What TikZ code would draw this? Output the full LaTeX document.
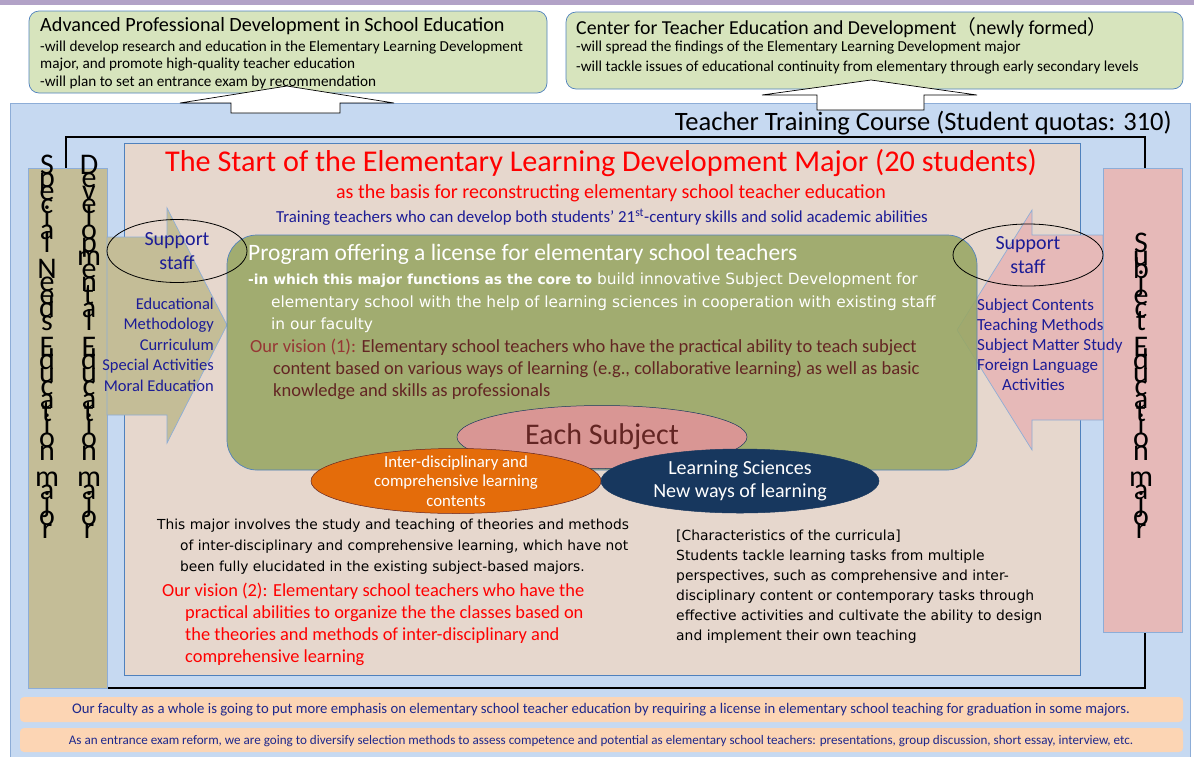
\documentclass[tikz,border=0pt]{standalone}
\usepackage{fontspec}
\setmainfont{Carlito}
\newfontfamily\gothic{DejaVu Sans}
\newfontfamily\cjk{Noto Sans CJK JP}
\usetikzlibrary{positioning}
\usetikzlibrary{shapes.geometric}

\definecolor{barpurple}{RGB}{178,162,199}
\definecolor{topgreen}{RGB}{215,228,189}
\definecolor{edgeblue}{RGB}{79,129,189}
\definecolor{panelblue}{RGB}{198,217,241}
\definecolor{paneledge}{RGB}{141,173,215}
\definecolor{innerbeige}{RGB}{230,215,205}
\definecolor{progolive}{RGB}{152,167,100}
\definecolor{colbeige}{RGB}{196,189,151}
\definecolor{colpink}{RGB}{230,185,184}
\definecolor{subjpink}{RGB}{217,150,148}
\definecolor{ellorange}{RGB}{228,108,10}
\definecolor{ellnavy}{RGB}{23,55,94}
\definecolor{footorange}{RGB}{252,213,180}
\definecolor{textnavy}{RGB}{28,28,150}
\definecolor{footnavy}{RGB}{30,40,140}
\definecolor{visionred}{RGB}{150,55,52}
\definecolor{visionbrown}{RGB}{99,37,35}

\newcommand{\stackfont}{\fontsize{30}{13}\selectfont\lineskiplimit=-100pt\lineskip=0pt\relax}

\begin{document}
\begin{tikzpicture}[x=1pt,y=-1pt,
    topbox/.style={draw=edgeblue, fill=topgreen, rounded corners=10pt, line width=0.7pt},
    uparrow/.style={draw=black, fill=white, line width=0.7pt},
    column/.style={draw=paneledge, line width=0.7pt},
    stack/.style={inner sep=0pt, align=center, anchor=north, font=\stackfont},
    txt/.style={inner sep=0pt, align=left, anchor=north west},
    oval/.style={ellipse, draw, inner sep=0pt}]
\useasboundingbox (0,0) rectangle (1194,756);

% background panels
\fill[barpurple] (0,0) rectangle (1194,5);
\draw[fill=panelblue, draw=paneledge, line width=0.7pt] (10,103) rectangle (1190,760);

% top boxes
\draw[topbox] (29,11) rectangle (547,93);
\draw[topbox] (566,12) rectangle (1183,89);
\node[txt, font=\fontsize{20.2}{24}\selectfont] (advtitle) at (40,17) {Advanced Professional Development in School Education};
\node[txt, font=\fontsize{15.2}{17.7}\selectfont] (advbody) at (40,40.5)
  {-will develop research and education in the Elementary Learning Development\\major, and promote high-quality teacher education\\-will plan to set an entrance exam by recommendation};
\node[txt, font=\fontsize{19.8}{24}\selectfont] (centitle) at (576,17) {Center for Teacher Education and Development{\cjk （}newly formed{\cjk ）}};
\node[txt, font=\fontsize{15.2}{20}\selectfont] (cenbody) at (576,41)
  {-will spread the findings of the Elementary Learning Development major\\-will tackle issues of educational continuity from elementary through early secondary levels};

% up arrows
\draw[uparrow] (287,86) -- (394,103) -- (340,103) -- (340,113) -- (231,113) -- (231,103) -- (180,103) -- cycle;
\draw[uparrow] (871,80) -- (977,95) -- (924,95) -- (924,110) -- (817,110) -- (817,95) -- (762,95) -- cycle;

% teacher training course frame
\draw[line width=1.8pt] (66,137) rectangle (1145,688);
\node[inner sep=0pt, anchor=east, font=\fontsize{26.5}{30}\selectfont] (course) at (1172,123) {Teacher Training Course (Student quotas: 310)};

% major box
\draw[fill=innerbeige, draw=edgeblue, line width=0.5pt] (124,143) rectangle (1080,675);

% side columns
\draw[column, fill=colbeige] (28,168) rectangle (107,688);
\draw[column, fill=colpink] (1103,168) rectangle (1182,632);
\node[stack] (special) at (47,155) {S\\p\\e\\c\\i\\a\\l\\[13pt]N\\e\\e\\d\\s\\[13pt]E\\d\\u\\c\\a\\t\\i\\o\\n\\[13pt]m\\a\\j\\o\\r};
\node[stack] (develop) at (89,155) {D\\e\\v\\e\\l\\o\\p\\m\\e\\n\\t\\a\\l\\[13pt]E\\d\\u\\c\\a\\t\\i\\o\\n\\[13pt]m\\a\\j\\o\\r};
\node[stack] (subject) at (1141,233) {S\\u\\b\\j\\e\\c\\t\\[13pt]E\\d\\u\\c\\a\\t\\i\\o\\n\\[13pt]m\\a\\j\\o\\r};

% side arrows
\draw[column, fill=colbeige] (107,237) -- (167,237) -- (167,208) -- (227,325) -- (167,443) -- (167,415) -- (107,415) -- cycle;
\draw[column, fill=colpink] (1103,235) -- (1032,235) -- (1032,210) -- (957,330) -- (1032,450) -- (1032,420) -- (1103,420) -- cycle;

% program box
\draw[fill=progolive, fill opacity=0.88, draw=edgeblue, line width=0.7pt, rounded corners=30pt] (227,235) rectangle (977,470);

% headings
\node[text=red, font=\fontsize{30.2}{34}\selectfont] (majortitle) at (601,163) {The Start of the Elementary Learning Development Major (20 students)};
\node[text=red, font=\fontsize{20}{24}\selectfont] (basis) at (611,193) {as the basis for reconstructing elementary school teacher education};
\node[text=textnavy, font=\fontsize{16.8}{20}\selectfont] (training) at (602,217) {Training teachers who can develop both students’ 21\textsuperscript{st}-century skills and solid academic abilities};

% program text
\node[inner sep=0pt, anchor=west, text=white, font=\fontsize{23.5}{27}\selectfont] (program) at (248,254) {Program offering a license for elementary school teachers};
\node[txt, text=white, font=\gothic\fontsize{15.4}{22.5}\selectfont] (core) at (248,272.8)
  {{\bfseries\fontsize{13.8}{22.5}\selectfont -in which this major functions as the core to} build innovative Subject Development for\\\hspace*{23pt}elementary school with the help of learning sciences in cooperation with existing staff\\\hspace*{23pt}in our faculty};
\node[txt, text=visionbrown, font=\fontsize{18.5}{22}\selectfont] (vision1) at (250,338.6)
  {\textcolor{visionred}{Our vision (1):} Elementary school teachers who have the practical ability to teach subject\\\hspace*{23pt}content based on various ways of learning (e.g., collaborative learning) as well as basic\\\hspace*{23pt}knowledge and skills as professionals};

% side lists
\node[inner sep=0pt, align=right, anchor=north east, text=textnavy, font=\fontsize{16.5}{20.5}\selectfont] (leftlist) at (214,297.4)
  {Educational\\Methodology\\Curriculum\\Special Activities\\Moral Education};
\node[txt, text=textnavy, font=\fontsize{17}{20}\selectfont] (rightlist) at (977,298.2)
  {Subject Contents\\Teaching Methods\\Subject Matter Study\\Foreign Language\\\hspace*{25pt}Activities};

% support staff
\node[oval, minimum width=140, minimum height=63, line width=0.8pt] (staffL) at (177,251) {};
\node[oval, minimum width=150, minimum height=62, line width=0.8pt] (staffR) at (1028,255) {};
\node[align=center, text=textnavy, font=\fontsize{20}{24}\selectfont] (staffLtext) at (staffL.center) {Support\\staff};
\node[align=center, text=textnavy, font=\fontsize{20}{24}\selectfont] (staffRtext) at (staffR.center) {Support\\staff};

% subject ellipses
\node[oval, fill=subjpink, draw=ellnavy, line width=0.5pt, minimum width=290, minimum height=63] (each) at (602,437) {};
\node[text=visionbrown, font=\fontsize{30}{34}\selectfont] (eachtext) at (each.center) {Each Subject};
\node[oval, fill=ellorange, draw=visionbrown, line width=0.5pt, minimum width=290, minimum height=65] (inter) at (456,481) {};
\node[align=center, text=white, font=\fontsize{16.8}{19.5}\selectfont] (intertext) at (inter.center) {Inter-disciplinary and\\comprehensive learning\\contents};
\node[oval, fill=ellnavy, draw=ellnavy, line width=0.5pt, minimum width=278, minimum height=64] (learn) at (740,481) {};
\node[align=center, text=white, font=\fontsize{20}{23}\selectfont] (learntext) at (learn.center) {Learning Sciences\\New ways of learning};

% lower texts
\node[txt, font=\gothic\fontsize{13.8}{21}\selectfont] (involve) at (157,518.5)
  {This major involves the study and teaching of theories and methods\\\hspace*{23pt}of inter-disciplinary and comprehensive learning, which have not\\\hspace*{23pt}been fully elucidated in the existing subject-based majors.};
\node[txt, text=red, font=\fontsize{18.4}{22}\selectfont] (vision2) at (162,582.6)
  {Our vision (2): Elementary school teachers who have the\\\hspace*{23pt}practical abilities to organize the the classes based on\\\hspace*{23pt}the theories and methods of inter-disciplinary and\\\hspace*{23pt}comprehensive learning};
\node[txt, font=\gothic\fontsize{13.9}{20}\selectfont] (curricula) at (676,529.4)
  {[Characteristics of the curricula]\\Students tackle learning tasks from multiple\\perspectives, such as comprehensive and inter-\\disciplinary content or contemporary tasks through\\effective activities and cultivate the ability to design\\and implement their own teaching};

% footer boxes
\fill[footorange, rounded corners=4pt] (20,697) rectangle (1183,722);
\fill[footorange, rounded corners=4pt] (20,728) rectangle (1183,752);
\node[text=footnavy, font=\fontsize{14.7}{16}\selectfont] (faculty) at (601,710) {Our faculty as a whole is going to put more emphasis on elementary school teacher education by requiring a license in elementary school teaching for graduation in some majors.};
\node[text=footnavy, font=\fontsize{13.1}{15}\selectfont] (exam) at (601,741) {As an entrance exam reform, we are going to diversify selection methods to assess competence and potential as elementary school teachers: presentations, group discussion, short essay, interview, etc.};
\end{tikzpicture}
\end{document}
